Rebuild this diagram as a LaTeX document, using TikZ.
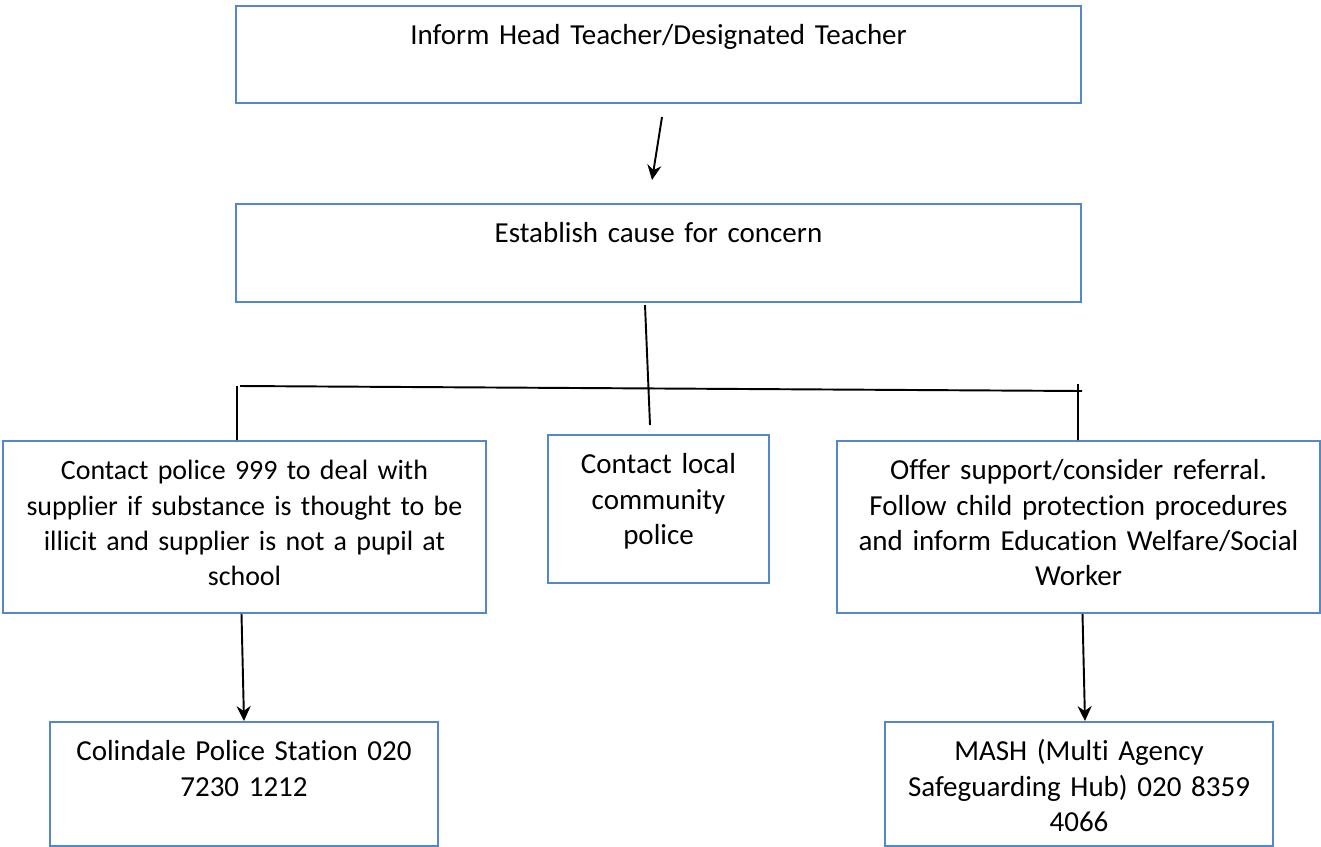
\documentclass[tikz,border=0pt]{standalone}
\usepackage{fontspec}
\setmainfont{Carlito}[RawFeature={-liga,-clig,-calt}]
\usetikzlibrary{arrows.meta}
\definecolor{boxblue}{RGB}{84,135,206}

\begin{document}
\begin{tikzpicture}[x=0.02cm,y=-0.02cm,
    flowbox/.style={draw=boxblue,line width=1.1pt,anchor=north,inner sep=0pt,
        align=center,text height=0.78cm,font=\fontsize{16.5}{20.1}\selectfont},
    link/.style={line width=1.1pt},
    arrow/.style={link,-{Stealth[length=8.5pt,width=8pt]}}
    ]
    \useasboundingbox (0,0) rectangle (1321,846);
    \node[flowbox,text width=16.9cm,text depth=1.16cm] (inform) at (658.5,5)
        {Inform Head Teacher/Designated Teacher};
    \node[flowbox,text width=16.9cm,text depth=1.18cm] (establish) at (658.5,203)
        {Establish cause for concern};
    \node[flowbox,text width=9.66cm,text depth=2.66cm,
          font=\fontsize{15.9}{20.1}\selectfont] (police) at (244.5,440)
        {Contact police 999 to deal with\\supplier if substance is thought to be\\illicit and supplier is not a pupil at\\school};
    \node[flowbox,text width=4.42cm,text depth=2.18cm] (local) at (658.5,434)
        {Contact local\\community\\police};
    \node[flowbox,text width=9.66cm,text depth=2.66cm] (support) at (1078.5,440)
        {Offer support/consider referral.\\Follow child protection procedures\\and inform Education Welfare/Social\\Worker};
    \node[flowbox,text width=7.76cm,text depth=1.70cm] (colindale) at (244,721)
        {Colindale Police Station 020\\7230 1212};
    \node[flowbox,text width=7.76cm,text depth=1.70cm] (mash) at (1079,721)
        {MASH (Multi Agency\\Safeguarding Hub) 020 8359\\4066};

    \coordinate (a1) at (662,117);
    \coordinate (a2) at (652,180);
    \coordinate (m1) at (645,305);
    \coordinate (m2) at (650,425);
    \coordinate (hl) at (240,386);
    \coordinate (hr) at (1082,391);
    \coordinate (lt) at (237,386);
    \coordinate (rt) at (1078,384);

    \draw[arrow] (a1) -- (a2);
    \draw[link] (m1) -- (m2)
                (hl) -- (hr)
                (lt) -- (lt |- police.north)
                (rt) -- (rt |- support.north);
    \draw[arrow] ([xshift=-0.06cm]police.south) -- (colindale.north);
    \draw[arrow] ([xshift=0.08cm]support.south) -- ([xshift=0.12cm]mash.north);
\end{tikzpicture}
\end{document}
